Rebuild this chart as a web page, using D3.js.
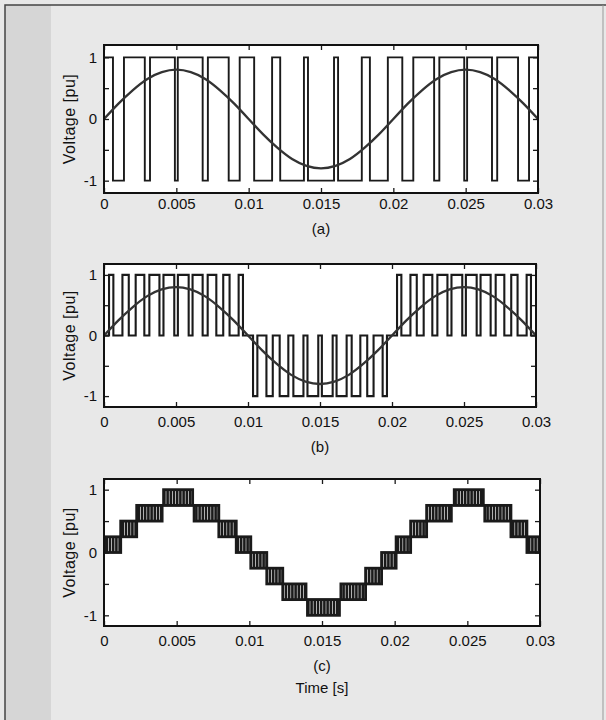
<!DOCTYPE html>
<html>
<head>
<meta charset="utf-8">
<script src="https://cdn.jsdelivr.net/npm/d3@7"></script>
<style>
  body { margin: 0; background: #e8e8e8; }
  svg { display: block; }
  text { font-family: "Liberation Sans", Arial, Helvetica, sans-serif; fill: #111; }
</style>
</head>
<body>
<svg id="fig"></svg>
<script>
// tick values and labels
const timeTicks = [0, 0.005, 0.01, 0.015, 0.02, 0.025, 0.03];
const timeTickLabels = ["0", "0.005", "0.01", "0.015", "0.02", "0.025", "0.03"];
const voltTicks = [-1, -0.5, 0, 0.5, 1];
const voltTickLabels = ["-1", "", "0", "", "1"];

// reference sine (read every 1 ms)
const refTime = [0, 0.001, 0.002, 0.003, 0.004, 0.005, 0.006, 0.007, 0.008, 0.009, 0.01,
  0.011, 0.012, 0.013, 0.014, 0.015, 0.016, 0.017, 0.018, 0.019, 0.02,
  0.021, 0.022, 0.023, 0.024, 0.025, 0.026, 0.027, 0.028, 0.029, 0.03];
const refVolt = [0, 0.25, 0.47, 0.65, 0.76, 0.8, 0.76, 0.65, 0.47, 0.25, 0,
  -0.25, -0.47, -0.65, -0.76, -0.8, -0.76, -0.65, -0.47, -0.25, 0,
  0.25, 0.47, 0.65, 0.76, 0.8, 0.76, 0.65, 0.47, 0.25, 0];

// (a) bipolar PWM: intervals where output sits at -1 (else +1)
const lowsA = [[0.00062, 0.00138], [0.00282, 0.00318], [0.0049, 0.0051], [0.00682, 0.00718],
  [0.00862, 0.00938], [0.01038, 0.01162], [0.01218, 0.01382], [0.0141, 0.0159],
  [0.01618, 0.01782], [0.01838, 0.01962], [0.02062, 0.02138], [0.02282, 0.02318],
  [0.0249, 0.0251], [0.02682, 0.02718], [0.02862, 0.02938]];

// (b) unipolar PWM: pulses [start, end, level], otherwise 0
const pulsesB = [[0.00035, 0.00065, 1], [0.00128, 0.00172, 1], [0.0022, 0.0028, 1], [0.00315, 0.00385, 1],
  [0.00413, 0.00488, 1], [0.00513, 0.00588, 1], [0.00615, 0.00685, 1], [0.0072, 0.0078, 1],
  [0.00828, 0.00872, 1], [0.00935, 0.00965, 1],
  [0.01035, 0.01065, -1], [0.01128, 0.01172, -1], [0.0122, 0.0128, -1], [0.01315, 0.01385, -1],
  [0.01413, 0.01488, -1], [0.01513, 0.01588, -1], [0.01615, 0.01685, -1], [0.0172, 0.0178, -1],
  [0.01828, 0.01872, -1], [0.01935, 0.01965, -1],
  [0.02035, 0.02065, 1], [0.02128, 0.02172, 1], [0.0222, 0.0228, 1], [0.02315, 0.02385, 1],
  [0.02413, 0.02488, 1], [0.02513, 0.02588, 1], [0.02615, 0.02685, 1], [0.0272, 0.0278, 1],
  [0.02828, 0.02872, 1], [0.02935, 0.02965, 1]];

// (c) multilevel: switching bands [start, end, low level, high level]
const bandsC = [[0.0001, 0.00115, 0, 0.25], [0.00115, 0.00225, 0.25, 0.5], [0.00225, 0.004, 0.5, 0.75],
  [0.0041, 0.0061, 0.75, 1], [0.0062, 0.0079, 0.5, 0.75], [0.0079, 0.0091, 0.25, 0.5],
  [0.0091, 0.0101, 0, 0.25], [0.0101, 0.0112, -0.25, 0], [0.0112, 0.0123, -0.5, -0.25],
  [0.0123, 0.0139, -0.75, -0.5], [0.014, 0.0162, -1, -0.75], [0.0163, 0.018, -0.75, -0.5],
  [0.018, 0.0191, -0.5, -0.25], [0.0191, 0.0201, -0.25, 0], [0.0201, 0.0211, 0, 0.25],
  [0.0211, 0.0222, 0.25, 0.5], [0.0222, 0.0239, 0.5, 0.75], [0.0241, 0.0261, 0.75, 1],
  [0.0262, 0.028, 0.5, 0.75], [0.028, 0.0291, 0.25, 0.5], [0.0291, 0.03, 0, 0.25]];

const W = 606, H = 720;
const ink = "#1a1a1a";

const svg = d3.select("#fig").attr("width", W).attr("height", H);
const defs = svg.append("defs");

// page look: grey scan background, darker left strip, thin frame
svg.append("rect").attr("width", W).attr("height", H).attr("fill", "#e8e8e8");
svg.append("rect").attr("x", 5).attr("y", 5).attr("width", 46).attr("height", H - 5).attr("fill", "#d6d6d6");
svg.append("path").attr("d", `M5,${H}V5H${W}`).attr("fill", "none").attr("stroke", "#444").attr("stroke-width", 1.5);
svg.append("path").attr("d", `M603,5V${H}`).attr("fill", "none").attr("stroke", "#999").attr("stroke-width", 1);

// vertical hatch used for the dense switching in (c)
const hatch = defs.append("pattern").attr("id", "hatch")
    .attr("patternUnits", "userSpaceOnUse").attr("width", 3.2).attr("height", 10);
hatch.append("rect").attr("width", 3.2).attr("height", 10).attr("fill", "#fff");
hatch.append("rect").attr("width", 2.6).attr("height", 10).attr("fill", ink);

function panel(cfg, idx) {
  const x = d3.scaleLinear().domain([0, 0.03]).range([cfg.left, cfg.right]);
  const y = d3.scaleLinear().domain([-cfg.ymax, cfg.ymax]).range([cfg.bottom, cfg.top]);
  const g = svg.append("g");

  g.append("rect")
      .attr("x", cfg.left).attr("y", cfg.top)
      .attr("width", cfg.right - cfg.left).attr("height", cfg.bottom - cfg.top)
      .attr("fill", "#fff");

  defs.append("clipPath").attr("id", "clip" + idx)
    .append("rect")
      .attr("x", cfg.left).attr("y", cfg.top)
      .attr("width", cfg.right - cfg.left).attr("height", cfg.bottom - cfg.top);

  const plot = g.append("g").attr("clip-path", `url(#clip${idx})`);

  //axes, MATLAB style ticks pointing inward
  const fmtX = d => timeTickLabels[timeTicks.indexOf(d)];
  const fmtY = d => voltTickLabels[voltTicks.indexOf(d)];
  const ax = [
    g.append("g").attr("transform", `translate(0,${cfg.bottom})`)
      .call(d3.axisBottom(x).tickValues(timeTicks).tickFormat(fmtX).tickSize(-5).tickPadding(cfg.xpad)),
    g.append("g").attr("transform", `translate(0,${cfg.top})`)
      .call(d3.axisTop(x).tickValues(timeTicks).tickFormat("").tickSize(-5)),
    g.append("g").attr("transform", `translate(${cfg.left},0)`)
      .call(d3.axisLeft(y).tickValues(voltTicks).tickFormat(fmtY).tickSize(-5).tickPadding(7)),
    g.append("g").attr("transform", `translate(${cfg.right},0)`)
      .call(d3.axisRight(y).tickValues(voltTicks).tickFormat("").tickSize(-5))
  ];
  ax.forEach(a => {
    a.select(".domain").remove();
    a.selectAll("line").attr("stroke", ink).attr("stroke-width", 1.3);
    a.selectAll("text").style("font-size", "15px").attr("fill", "#111");
  });

  g.append("text")
      .attr("transform", `translate(69,${(cfg.top + cfg.bottom) / 2}) rotate(-90)`)
      .attr("text-anchor", "middle").attr("dy", "0.35em")
      .style("font-size", "16px").style("letter-spacing", "0.5px")
      .text("Voltage [pu]");

  g.append("text")
      .attr("x", (cfg.left + cfg.right) / 2).attr("y", cfg.bottom + cfg.capOffset)
      .attr("text-anchor", "middle").attr("dy", "0.35em")
      .style("font-size", "15px")
      .text(cfg.caption);

  return { x, y, plot, g };
}

const line = (x, y) => d3.line().x(d => x(d[0])).y(d => y(d[1]));

// ---- (a)
const pa = panel({ left: 104, right: 538, top: 45, bottom: 193, ymax: 1.2, xpad: 5.6, capOffset: 36, caption: "(a)" }, 0);
let ptsA = [[0, 1]];
lowsA.forEach(([s, e]) => { ptsA.push([s, 1], [s, -1], [e, -1], [e, 1]); });
ptsA.push([0.03, 1]);
pa.plot.append("path").datum(ptsA)
    .attr("d", line(pa.x, pa.y))
    .attr("fill", "none").attr("stroke", ink).attr("stroke-width", 1.9);
pa.plot.append("path").datum(refTime.map((t, i) => [t, refVolt[i]]))
    .attr("d", line(pa.x, pa.y).curve(d3.curveNatural))
    .attr("fill", "none").attr("stroke", "#333").attr("stroke-width", 2.3);

// ---- (b)
const pb = panel({ left: 104, right: 536, top: 264, bottom: 407, ymax: 1.18, xpad: 9.6, capOffset: 40, caption: "(b)" }, 1);
let ptsB = [[0, 0]];
pulsesB.forEach(([s, e, v]) => { ptsB.push([s, 0], [s, v], [e, v], [e, 0]); });
ptsB.push([0.03, 0]);
pb.plot.append("path").datum(ptsB)
    .attr("d", line(pb.x, pb.y))
    .attr("fill", "none").attr("stroke", ink).attr("stroke-width", 2.1);
pb.plot.append("path").datum(refTime.map((t, i) => [t, refVolt[i]]))
    .attr("d", line(pb.x, pb.y).curve(d3.curveNatural))
    .attr("fill", "none").attr("stroke", "#333").attr("stroke-width", 2.3);

// ---- (c)
const pc = panel({ left: 104, right: 540, top: 479, bottom: 626, ymax: 1.17, xpad: 9.6, capOffset: 40, caption: "(c)" }, 2);
// joins between neighbouring bands at their shared level
let ptsC = [[0, 0], [bandsC[0][0], 0]];
bandsC.forEach((b, i) => {
  const n = bandsC[i + 1];
  if (!n) { ptsC = ptsC.concat([[b[1], b[2]]]); return; }
  const lev = (b[3] === n[2]) ? b[3] : b[2];
  ptsC.push([b[1], lev], [n[0], lev]);
});
pc.plot.append("g").selectAll("path.join")
    .data(d3.pairs(ptsC))
    .join("path")
    .attr("d", d => line(pc.x, pc.y)(d))
    .attr("stroke", ink).attr("stroke-width", 2.2);
pc.plot.append("g").selectAll("rect")
    .data(bandsC)
    .join("rect")
    .attr("x", d => pc.x(d[0]))
    .attr("width", d => pc.x(d[1]) - pc.x(d[0]))
    .attr("y", d => pc.y(d[3]))
    .attr("height", d => pc.y(d[2]) - pc.y(d[3]))
    .attr("fill", "url(#hatch)")
    .attr("stroke", ink).attr("stroke-width", 2.8);

svg.append("text")
    .attr("x", (104 + 540) / 2).attr("y", 688)
    .attr("text-anchor", "middle").attr("dy", "0.35em")
    .style("font-size", "15px")
    .text("Time [s]");

// frames last so they sit on top of the traces
[pa, pb, pc].forEach((p, i) => {
  const [l, r] = p.x.range(), [b, t] = p.y.range();
  svg.append("rect")
      .attr("x", l).attr("y", t).attr("width", r - l).attr("height", b - t)
      .attr("fill", "none").attr("stroke", "#111").attr("stroke-width", 2);
});
</script>
</body>
</html>
